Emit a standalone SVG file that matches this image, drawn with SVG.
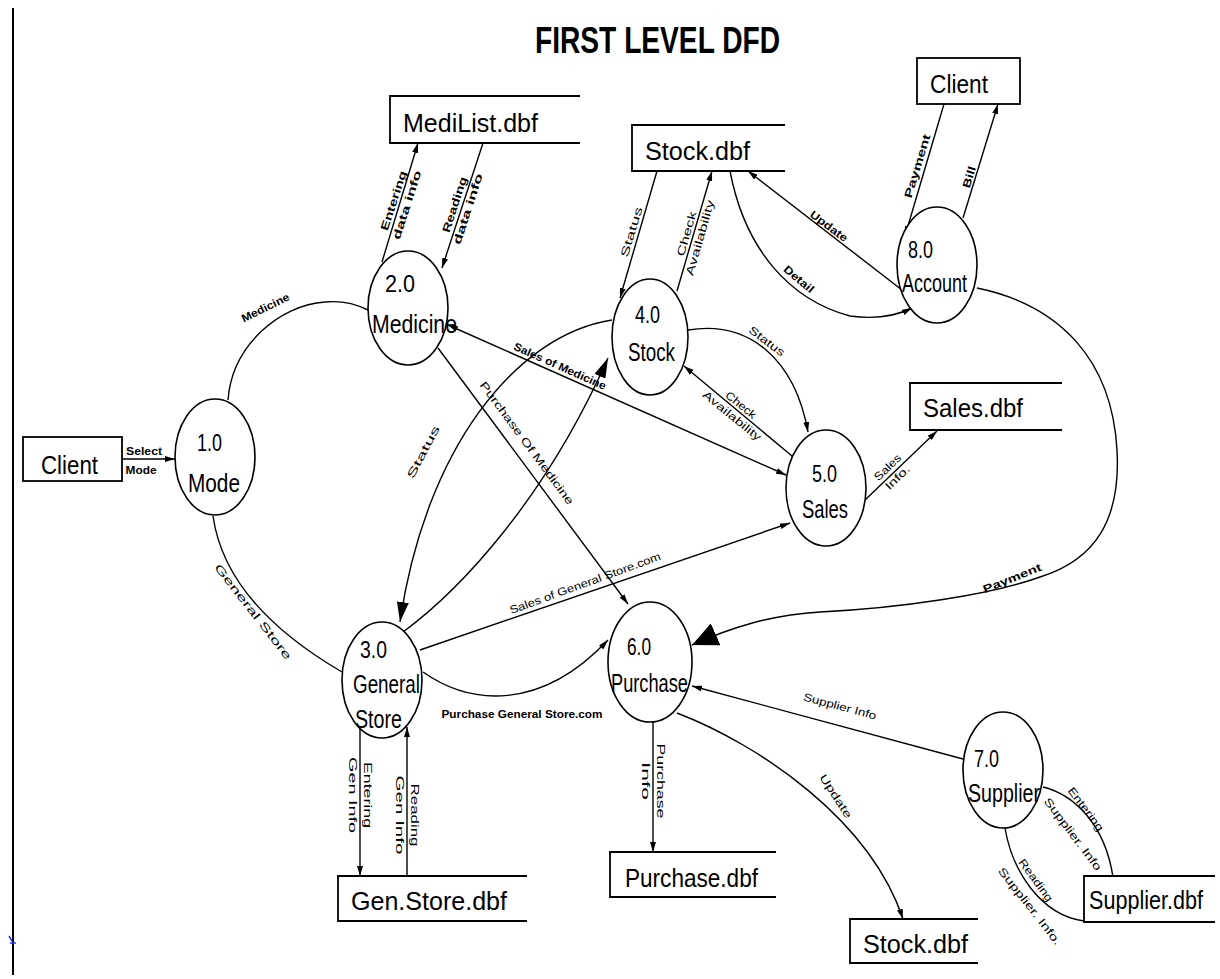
<svg xmlns="http://www.w3.org/2000/svg" width="1220" height="979" viewBox="0 0 1220 979">
<style>
.bg{fill:#fff}
.n{fill:#fff;stroke:#000;stroke-width:1.6}
.ds{fill:none;stroke:#000;stroke-width:1.8}
.c{fill:none;stroke:#000;stroke-width:1.4}
.t{font-family:"Liberation Sans",Arial,sans-serif;font-size:26px;fill:#000}
.tn{font-family:"Liberation Sans",Arial,sans-serif;font-size:24px;fill:#000}
.s{font-family:"Liberation Sans",Arial,sans-serif;font-size:11px;fill:#000;text-anchor:middle}
.b{font-weight:bold}
.title{font-family:"Liberation Sans",Arial,sans-serif;font-size:36px;font-weight:bold;fill:#000}
</style>
<defs>
<marker id="a" viewBox="0 0 10 6" refX="10" refY="3" markerWidth="10" markerHeight="6" markerUnits="userSpaceOnUse" orient="auto-start-reverse"><path d="M0,0 L10,3 L0,6 z" fill="#000"/></marker>
<marker id="am" viewBox="0 0 20 12" refX="20" refY="6" markerWidth="20" markerHeight="12" markerUnits="userSpaceOnUse" orient="auto"><path d="M0,0 L20,6 L0,12 z" fill="#000"/></marker>
<marker id="al" viewBox="0 0 26 24" refX="26" refY="12" markerWidth="26" markerHeight="24" markerUnits="userSpaceOnUse" orient="auto"><path d="M0,0 L26,12 L0,24 z" fill="#000"/></marker>
</defs>
<rect class="bg" x="0" y="0" width="1220" height="979"/>
<line x1="13" y1="8" x2="13" y2="975" stroke="#000" stroke-width="2"/>
<path d="M9,936 L12,941 M10,943 L16,943" stroke="#2030ff" stroke-width="1.5" fill="none"/>
<text class="title" x="535" y="53" textLength="245" lengthAdjust="spacingAndGlyphs">FIRST LEVEL DFD</text>

<g id="connectors">
  <line class="c" x1="122" y1="459" x2="175" y2="459" marker-end="url(#a)"/>
  <path class="c" d="M228,400 C232,345 280,305 325,302 C345,300 358,305 368,310"/>
  <path class="c" d="M213,516 C222,580 270,630 342,672"/>
  <line class="c" x1="382" y1="262" x2="418" y2="143" marker-end="url(#a)"/>
  <line class="c" x1="483" y1="143" x2="442" y2="268" marker-end="url(#a)"/>
  <line class="c" x1="657" y1="171" x2="620" y2="298" marker-end="url(#a)"/>
  <line class="c" x1="677" y1="291" x2="712" y2="171" marker-end="url(#a)"/>
  <path class="c" d="M730,171 C745,250 790,300 850,316 C880,320 900,314 912,308" marker-end="url(#a)"/>
  <line class="c" x1="902" y1="290" x2="748" y2="171" marker-end="url(#a)"/>
  <line class="c" x1="944" y1="104" x2="905" y2="236" marker-end="url(#a)"/>
  <line class="c" x1="963" y1="218" x2="998" y2="104" marker-end="url(#a)"/>
  <path class="c" d="M977,288 C1060,305 1112,360 1117,450 C1121,520 1095,560 1040,577 C990,595 900,608 820,612 C770,615 730,628 692,645" marker-end="url(#al)"/>
  <line class="c" x1="448" y1="325" x2="786" y2="475" marker-start="url(#a)" marker-end="url(#a)"/>
  <line class="c" x1="438" y1="348" x2="628" y2="604" marker-end="url(#a)"/>
  <path class="c" d="M612,320 C515,335 425,450 400,622" marker-end="url(#am)"/>
  <path class="c" d="M403,632 C460,590 545,500 608,358" marker-end="url(#am)"/>
  <path class="c" d="M688,330 C750,320 795,360 808,432" marker-end="url(#a)"/>
  <line class="c" x1="792" y1="456" x2="684" y2="366" marker-end="url(#a)"/>
  <line class="c" x1="865" y1="500" x2="937" y2="431" marker-end="url(#a)"/>
  <line class="c" x1="420" y1="650" x2="790" y2="523" marker-end="url(#a)"/>
  <path class="c" d="M423,672 C470,705 540,712 608,640" marker-end="url(#a)"/>
  <line class="c" x1="360" y1="728" x2="360" y2="876" marker-end="url(#a)"/>
  <line class="c" x1="407" y1="876" x2="407" y2="727" marker-end="url(#a)"/>
  <line class="c" x1="653" y1="722" x2="653" y2="852" marker-end="url(#a)"/>
  <path class="c" d="M677,713 C760,745 870,820 903,919" marker-end="url(#a)"/>
  <line class="c" x1="963" y1="759" x2="692" y2="686" marker-end="url(#a)"/>
  <path class="c" d="M1043,787 C1075,795 1105,825 1113,877"/>
  <path class="c" d="M1005,828 C1012,870 1040,915 1084,921"/>

  <text class="s b" x="144" y="455" textLength="36" lengthAdjust="spacingAndGlyphs">Select</text>
  <text class="s b" x="141" y="474" textLength="31" lengthAdjust="spacingAndGlyphs">Mode</text>
  <text class="s b" transform="translate(267,311) rotate(-26)" y="0" font-size="12" textLength="52" lengthAdjust="spacingAndGlyphs">Medicine</text>
  <text class="s" transform="translate(250,614) rotate(52)" y="0" font-size="14" textLength="118" lengthAdjust="spacingAndGlyphs">General Store</text>
  <g transform="translate(401,203) rotate(-72)"><text class="s b" y="-4" textLength="62" lengthAdjust="spacingAndGlyphs">Entering</text><text class="s b" y="10" textLength="72" lengthAdjust="spacingAndGlyphs">data info</text></g>
  <g transform="translate(462,207) rotate(-72)"><text class="s b" y="-4" textLength="58" lengthAdjust="spacingAndGlyphs">Reading</text><text class="s b" y="10" textLength="74" lengthAdjust="spacingAndGlyphs">data info</text></g>
  <text class="s" transform="translate(638,234) rotate(-73)" y="-3" textLength="52" lengthAdjust="spacingAndGlyphs">Status</text>
  <g transform="translate(694,236) rotate(-74)"><text class="s" y="-4" textLength="46" lengthAdjust="spacingAndGlyphs">Check</text><text class="s" y="10" textLength="78" lengthAdjust="spacingAndGlyphs">Availability</text></g>
  <text class="s b" transform="translate(799,279) rotate(40)" y="4" textLength="36" lengthAdjust="spacingAndGlyphs">Detail</text>
  <text class="s b" transform="translate(829,226) rotate(37)" y="4" textLength="44" lengthAdjust="spacingAndGlyphs">Update</text>
  <text class="s b" transform="translate(917,166) rotate(-73)" y="4" textLength="66" lengthAdjust="spacingAndGlyphs">Payment</text>
  <text class="s b" transform="translate(969,177) rotate(-73)" y="4" textLength="22" lengthAdjust="spacingAndGlyphs">Bill</text>
  <text class="s b" transform="translate(560,366) rotate(24)" y="4" textLength="100" lengthAdjust="spacingAndGlyphs">Sales of Medicine</text>
  <text class="s" transform="translate(527,443) rotate(53.5)" y="4" font-size="12" textLength="150" lengthAdjust="spacingAndGlyphs">Purchase Of Medicine</text>
  <text class="s" transform="translate(423,452) rotate(-62)" y="4" font-size="14" textLength="58" lengthAdjust="spacingAndGlyphs">Status</text>
  <text class="s" transform="translate(767,341) rotate(37)" y="4" textLength="42" lengthAdjust="spacingAndGlyphs">Status</text>
  <g transform="translate(736,411) rotate(39)"><text class="s" y="-4" font-size="12" textLength="36" lengthAdjust="spacingAndGlyphs">Check</text><text class="s" y="10" textLength="72" lengthAdjust="spacingAndGlyphs">Availability</text></g>
  <g transform="translate(893,473) rotate(-44)"><text class="s" y="-4" textLength="33" lengthAdjust="spacingAndGlyphs">Sales</text><text class="s" y="10" textLength="30" lengthAdjust="spacingAndGlyphs">Info.</text></g>
  <text class="s" transform="translate(585,583) rotate(-20)" y="4" font-size="12" textLength="160" lengthAdjust="spacingAndGlyphs">Sales of General Store.com</text>
  <text class="s b" x="522" y="718" textLength="161" lengthAdjust="spacingAndGlyphs">Purchase General Store.com</text>
  <g transform="translate(360,795) rotate(90)"><text class="s" y="-4" textLength="66" lengthAdjust="spacingAndGlyphs">Entering</text><text class="s" y="11" textLength="76" lengthAdjust="spacingAndGlyphs">Gen Info</text></g>
  <g transform="translate(407,815) rotate(90)"><text class="s" y="-4" textLength="63" lengthAdjust="spacingAndGlyphs">Reading</text><text class="s" y="11" textLength="79" lengthAdjust="spacingAndGlyphs">Gen Info</text></g>
  <g transform="translate(653,781) rotate(90)"><text class="s" y="-4" textLength="75" lengthAdjust="spacingAndGlyphs">Purchase</text><text class="s" y="11" textLength="38" lengthAdjust="spacingAndGlyphs">Info</text></g>
  <text class="s" transform="translate(836,796) rotate(57)" y="4" textLength="50" lengthAdjust="spacingAndGlyphs">Update</text>
  <text class="s" transform="translate(840,706) rotate(15)" y="4" font-size="12" textLength="75" lengthAdjust="spacingAndGlyphs">Supplier Info</text>
  <text class="s" transform="translate(1086,809) rotate(53)" y="4" textLength="52" lengthAdjust="spacingAndGlyphs">Entering</text>
  <text class="s" transform="translate(1073,834) rotate(53)" y="4" textLength="88" lengthAdjust="spacingAndGlyphs">Supplier. Info</text>
  <text class="s" transform="translate(1036,880) rotate(54)" y="4" textLength="50" lengthAdjust="spacingAndGlyphs">Reading</text>
  <text class="s" transform="translate(1030,906) rotate(52)" y="4" textLength="95" lengthAdjust="spacingAndGlyphs">Supplier. Info.</text>
  <text class="s b" transform="translate(1012,578) rotate(-22)" y="4" font-size="13" textLength="62" lengthAdjust="spacingAndGlyphs">Payment</text>
</g>

<g id="client-left"><rect class="ds" x="23" y="437" width="99" height="44"/><text class="t" x="41" y="474" textLength="57" lengthAdjust="spacingAndGlyphs">Client</text></g>
<g id="client-top"><rect class="ds" x="917" y="58" width="103" height="46"/><text class="t" x="930" y="93" textLength="58" lengthAdjust="spacingAndGlyphs">Client</text></g>

<g id="medilist"><path class="ds" d="M580,96 H390 V143 H580"/><text class="t" x="403" y="132" textLength="135" lengthAdjust="spacingAndGlyphs">MediList.dbf</text></g>
<g id="stock-top"><path class="ds" d="M785,125 H632 V171 H785"/><text class="t" x="645" y="160" textLength="105" lengthAdjust="spacingAndGlyphs">Stock.dbf</text></g>
<g id="sales-dbf"><path class="ds" d="M1062,383 H910 V430 H1062"/><text class="t" x="923" y="417" textLength="100" lengthAdjust="spacingAndGlyphs">Sales.dbf</text></g>
<g id="genstore-dbf"><path class="ds" d="M527,876 H338 V921 H527"/><text class="t" x="351" y="910" textLength="156" lengthAdjust="spacingAndGlyphs">Gen.Store.dbf</text></g>
<g id="purchase-dbf"><path class="ds" d="M776,852 H610 V897 H776"/><text class="t" x="625" y="887" textLength="133" lengthAdjust="spacingAndGlyphs">Purchase.dbf</text></g>
<g id="stock-bottom"><path class="ds" d="M978,919 H850 V963 H978"/><text class="t" x="863" y="953" textLength="105" lengthAdjust="spacingAndGlyphs">Stock.dbf</text></g>
<g id="supplier-dbf"><path class="ds" d="M1215,876 H1084 V922 H1215"/><text class="t" x="1089" y="909" font-size="23" textLength="114" lengthAdjust="spacingAndGlyphs">Supplier.dbf</text></g>

<g id="p1"><ellipse class="n" cx="215" cy="457" rx="40" ry="58"/><text class="tn" x="197" y="451" textLength="25" lengthAdjust="spacingAndGlyphs">1.0</text><text class="t" x="188" y="492" textLength="52" lengthAdjust="spacingAndGlyphs">Mode</text></g>
<g id="p2"><ellipse class="n" cx="408" cy="308" rx="40" ry="57"/><text class="tn" x="385" y="292" textLength="30" lengthAdjust="spacingAndGlyphs">2.0</text><text class="t" x="372" y="333" textLength="85" lengthAdjust="spacingAndGlyphs">Medicine</text></g>
<g id="p4"><ellipse class="n" cx="650" cy="337" rx="38" ry="58"/><text class="tn" x="635" y="323" textLength="25" lengthAdjust="spacingAndGlyphs">4.0</text><text class="t" x="628" y="361" textLength="47" lengthAdjust="spacingAndGlyphs">Stock</text></g>
<g id="p8"><ellipse class="n" cx="937" cy="265" rx="40" ry="58"/><text class="tn" x="908" y="258" textLength="25" lengthAdjust="spacingAndGlyphs">8.0</text><text class="t" x="902" y="292" textLength="65" lengthAdjust="spacingAndGlyphs">Account</text></g>
<g id="p5"><ellipse class="n" cx="826" cy="488" rx="40" ry="58"/><text class="tn" x="812" y="482" textLength="25" lengthAdjust="spacingAndGlyphs">5.0</text><text class="t" x="802" y="518" textLength="46" lengthAdjust="spacingAndGlyphs">Sales</text></g>
<g id="p3"><ellipse class="n" cx="382" cy="680" rx="40" ry="58"/><text class="tn" x="360" y="658" textLength="27" lengthAdjust="spacingAndGlyphs">3.0</text><text class="t" x="353" y="693" textLength="67" lengthAdjust="spacingAndGlyphs">General</text><text class="t" x="355" y="728" textLength="47" lengthAdjust="spacingAndGlyphs">Store</text></g>
<g id="p6"><ellipse class="n" cx="650" cy="662" rx="42" ry="60"/><text class="tn" x="627" y="655" textLength="24" lengthAdjust="spacingAndGlyphs">6.0</text><text class="t" x="611" y="692" textLength="77" lengthAdjust="spacingAndGlyphs">Purchase</text></g>
<g id="p7"><ellipse class="n" cx="1003" cy="770" rx="40" ry="58"/><text class="tn" x="974" y="767" textLength="25" lengthAdjust="spacingAndGlyphs">7.0</text><text class="t" x="968" y="802" textLength="72" lengthAdjust="spacingAndGlyphs">Supplier</text></g>
</svg>
